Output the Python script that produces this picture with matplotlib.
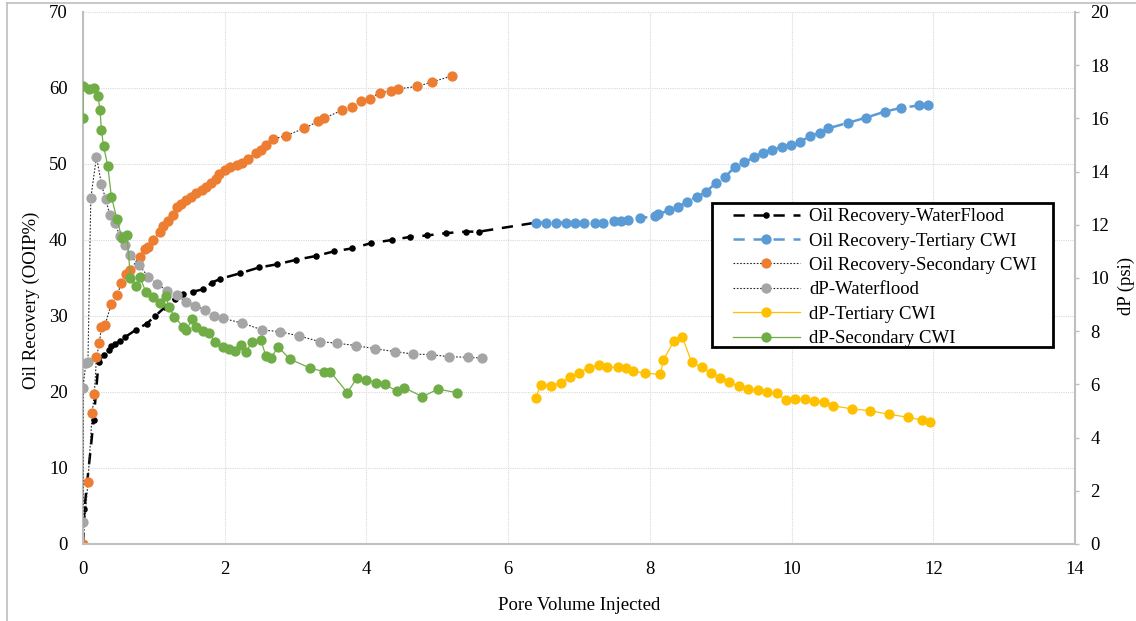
import matplotlib
matplotlib.use("Agg")
import matplotlib.pyplot as plt
from matplotlib.lines import Line2D
from matplotlib.patches import Rectangle

plt.rcParams['font.family'] = ['Liberation Serif', 'DejaVu Serif']
plt.rcParams['font.size'] = 13.5

# Oil recovery (OOIP%) vs pore volume injected
wf_pv = [0.0, 0.02, 0.15, 0.22, 0.29, 0.36, 0.40, 0.45, 0.52, 0.59, 0.75, 0.90, 1.02, 1.16,
         1.30, 1.41, 1.55, 1.69, 1.82, 1.94, 2.21, 2.49, 2.74, 3.01, 3.29, 3.54, 3.80, 4.07,
         4.36, 4.61, 4.86, 5.12, 5.40, 5.59, 6.40]
wf_rec = [0.0, 4.6, 16.3, 24.0, 24.9, 25.5, 26.0, 26.3, 26.7, 27.2, 28.2, 29.0, 30.0, 31.2,
          32.3, 32.9, 33.2, 33.5, 34.4, 34.9, 35.6, 36.4, 36.8, 37.4, 37.9, 38.5, 38.9, 39.6,
          40.0, 40.4, 40.6, 40.9, 41.1, 41.1, 42.3]

tcwi_pv = [6.40, 6.54, 6.68, 6.81, 6.94, 7.07, 7.22, 7.34, 7.49, 7.59, 7.69, 7.86, 8.07, 8.12,
           8.27, 8.40, 8.53, 8.66, 8.79, 8.93, 9.06, 9.20, 9.33, 9.47, 9.59, 9.72, 9.86, 9.99,
           10.12, 10.26, 10.40, 10.52, 10.79, 11.05, 11.32, 11.55, 11.80, 11.93]
tcwi_rec = [42.3, 42.3, 42.3, 42.3, 42.3, 42.3, 42.3, 42.3, 42.5, 42.5, 42.6, 42.9, 43.1, 43.4,
            43.9, 44.4, 45.0, 45.7, 46.3, 47.5, 48.3, 49.6, 50.2, 50.9, 51.5, 51.8, 52.3, 52.5,
            52.9, 53.7, 54.1, 54.7, 55.4, 56.1, 56.9, 57.4, 57.7, 57.7]

scwi_pv = [0.0, 0.07, 0.13, 0.16, 0.19, 0.23, 0.26, 0.31, 0.40, 0.48, 0.54, 0.60, 0.66, 0.80,
           0.87, 0.92, 0.99, 1.08, 1.13, 1.20, 1.27, 1.32, 1.39, 1.46, 1.53, 1.60, 1.68, 1.74,
           1.80, 1.88, 1.92, 2.00, 2.07, 2.17, 2.24, 2.33, 2.44, 2.51, 2.58, 2.68, 2.86, 3.12,
           3.32, 3.40, 3.66, 3.79, 3.92, 4.05, 4.19, 4.34, 4.45, 4.72, 4.93, 5.21]
scwi_rec = [0.0, 8.2, 17.3, 19.7, 24.6, 26.4, 28.5, 28.8, 31.6, 32.7, 34.3, 35.5, 36.0, 37.8,
            38.8, 39.1, 40.0, 41.1, 41.8, 42.5, 43.3, 44.4, 44.8, 45.3, 45.7, 46.2, 46.6, 47.0,
            47.5, 48.0, 48.7, 49.2, 49.6, 49.9, 50.1, 50.7, 51.5, 51.9, 52.5, 53.3, 53.7, 54.7,
            55.6, 56.0, 57.1, 57.5, 58.3, 58.6, 59.4, 59.6, 59.9, 60.2, 60.8, 61.6]

# Differential pressure (psi)
dpwf_pv = [0.0, 0.0, 0.04, 0.07, 0.11, 0.19, 0.26, 0.32, 0.38, 0.45, 0.52, 0.59, 0.66, 0.79,
           0.92, 1.05, 1.18, 1.32, 1.45, 1.58, 1.72, 1.85, 1.98, 2.25, 2.53, 2.78, 3.05, 3.34,
           3.58, 3.85, 4.12, 4.41, 4.66, 4.91, 5.17, 5.44, 5.63]
dpwf = [0.84, 5.88, 6.79, 6.85, 13.0, 14.56, 13.53, 12.96, 12.37, 12.08, 11.58, 11.24, 10.86,
        10.49, 10.05, 9.77, 9.53, 9.36, 9.11, 8.95, 8.81, 8.57, 8.48, 8.30, 8.05, 7.98, 7.82,
        7.61, 7.55, 7.46, 7.34, 7.23, 7.14, 7.12, 7.04, 7.02, 6.99]

dpt_pv = [6.39, 6.46, 6.60, 6.74, 6.87, 7.00, 7.14, 7.28, 7.40, 7.55, 7.66, 7.76, 7.93, 8.15,
          8.19, 8.34, 8.46, 8.59, 8.73, 8.86, 8.99, 9.12, 9.26, 9.39, 9.53, 9.66, 9.79, 9.92,
          10.05, 10.19, 10.32, 10.46, 10.58, 10.85, 11.11, 11.37, 11.65, 11.84, 11.96]
dpt = [5.50, 5.98, 5.94, 6.06, 6.27, 6.44, 6.63, 6.73, 6.64, 6.64, 6.63, 6.50, 6.42, 6.38,
       6.92, 7.63, 7.77, 6.83, 6.64, 6.44, 6.25, 6.08, 5.94, 5.83, 5.79, 5.73, 5.66, 5.41,
       5.45, 5.45, 5.38, 5.33, 5.20, 5.08, 5.01, 4.88, 4.76, 4.66, 4.60]

dps_pv = [0.0, 0.0, 0.09, 0.15, 0.21, 0.24, 0.26, 0.29, 0.35, 0.40, 0.48, 0.55, 0.62, 0.67,
          0.75, 0.80, 0.89, 0.99, 1.09, 1.17, 1.21, 1.29, 1.41, 1.46, 1.54, 1.60, 1.70, 1.78,
          1.86, 1.98, 2.06, 2.14, 2.23, 2.30, 2.39, 2.51, 2.58, 2.66, 2.75, 2.92, 3.20, 3.40,
          3.49, 3.73, 3.87, 4.00, 4.13, 4.26, 4.43, 4.53, 4.79, 5.01, 5.28]
dps = [16.03, 17.22, 17.11, 17.13, 16.85, 16.32, 15.56, 14.96, 14.21, 13.06, 12.21, 11.49,
       11.62, 10.01, 9.70, 10.05, 9.46, 9.27, 9.07, 9.32, 8.92, 8.55, 8.17, 8.05, 8.45, 8.17,
       8.02, 7.92, 7.61, 7.42, 7.32, 7.27, 7.48, 7.23, 7.61, 7.67, 7.07, 7.00, 7.42, 6.95,
       6.62, 6.48, 6.48, 5.69, 6.25, 6.17, 6.06, 6.00, 5.75, 5.88, 5.54, 5.82, 5.69]

W, H = 1136, 621
L, B, PW, PH = 83, 77, 992, 532  # plot area in pixels

fig = plt.figure(figsize=(W / 100, H / 100), dpi=100)
ax = fig.add_axes([L / W, B / H, PW / W, PH / H])
ax2 = ax.twinx()

# chart-area border
fig.add_artist(Line2D([7 / W, 7 / W], [0, 618 / H], color='#bfbfbf', lw=1.2))
fig.add_artist(Line2D([7 / W, 1], [618 / H, 618 / H], color='#bfbfbf', lw=1.2))

mk = dict(marker='o', markeredgewidth=0)
ms_big = 7.4
ax.plot(wf_pv, wf_rec, color='black', lw=1.8, dashes=(4.5, 3.5), ms=4.7,
        markevery=list(range(len(wf_pv) - 1)), label='Oil Recovery-WaterFlood', **mk)
ax.plot(tcwi_pv, tcwi_rec, color='#5B9BD5', lw=1.8, dashes=(4.5, 3.5), ms=ms_big,
        label='Oil Recovery-Tertiary CWI', **mk)
ax.plot(scwi_pv, scwi_rec, color='#262626', lw=0.8, dashes=(1.5, 1.5), ms=ms_big,
        markerfacecolor='#ED7D31', label='Oil Recovery-Secondary CWI', **mk)

ax2.plot(dpwf_pv, dpwf, color='#262626', lw=0.8, dashes=(1.5, 1.5), ms=ms_big,
         markerfacecolor='#A5A5A5', label='dP-Waterflood', **mk)
ax2.plot(dpt_pv, dpt, color='#FFC000', lw=0.9, ms=ms_big, label='dP-Tertiary CWI', **mk)
ax2.plot(dps_pv, dps, color='#70AD47', lw=0.9, ms=ms_big, label='dP-Secondary CWI', **mk)

ax.set_xlim(0, 14)
ax.set_ylim(0, 70)
ax2.set_ylim(0, 20)
ax.set_xticks(range(0, 15, 2))
ax.set_yticks(range(0, 71, 10))
ax2.set_yticks(range(0, 21, 2))

ax.grid(True, color='#d9d9d9', lw=0.8, ls=(0, (1, 1)))
ax.set_axisbelow(True)

ax.spines['top'].set_visible(False)
ax2.spines['top'].set_visible(False)
ax.spines['right'].set_visible(False)
ax.spines['left'].set_color('#bfbfbf')
ax.spines['left'].set_linewidth(1.5)
ax.spines['bottom'].set_color('#bfbfbf')
ax.spines['bottom'].set_linewidth(1.5)
ax2.spines['left'].set_visible(False)
ax2.spines['bottom'].set_visible(False)
ax2.spines['right'].set_color('#bfbfbf')
ax2.spines['right'].set_linewidth(1.5)

ax.tick_params(axis='both', length=0, labelsize=13.5, labelcolor='black')
ax.tick_params(axis='y', pad=11)
ax.tick_params(axis='x', pad=12)
ax2.tick_params(axis='y', length=3, width=1, color='#bfbfbf', pad=8, labelsize=13.5)

ax.set_xlabel('Pore Volume Injected', fontsize=13.5, labelpad=14)
ax.set_ylabel('Oil Recovery (OOIP%)', fontsize=13.5)
ax2.set_ylabel('dP (psi)', fontsize=13.5)
ax.yaxis.set_label_coords((40 - L) / PW, (544 - 300) / PH)
ax2.yaxis.set_label_coords((1118 - L) / PW, (544 - 286) / PH)

# legend box drawn separately so the side padding can be wider than the top/bottom
ax2.add_patch(Rectangle(((712 - L) / PW, (544 - 347) / PH), (1053 - 712) / PW, (347 - 203) / PH,
                        transform=ax2.transAxes, facecolor='white', edgecolor='black',
                        lw=2, zorder=5, clip_on=False))
h1, l1 = ax.get_legend_handles_labels()
h2, l2 = ax2.get_legend_handles_labels()
leg = ax2.legend(h1 + h2, l1 + l2, loc='upper left',
                 bbox_to_anchor=((733 - L) / PW, (544 - 208) / PH),
                 fontsize=13.5, handlelength=3.57, handletextpad=0.48, labelspacing=0.39,
                 borderpad=0, borderaxespad=0, frameon=False)
leg.set_zorder(6)

fig.savefig('out.png', dpi=100)
